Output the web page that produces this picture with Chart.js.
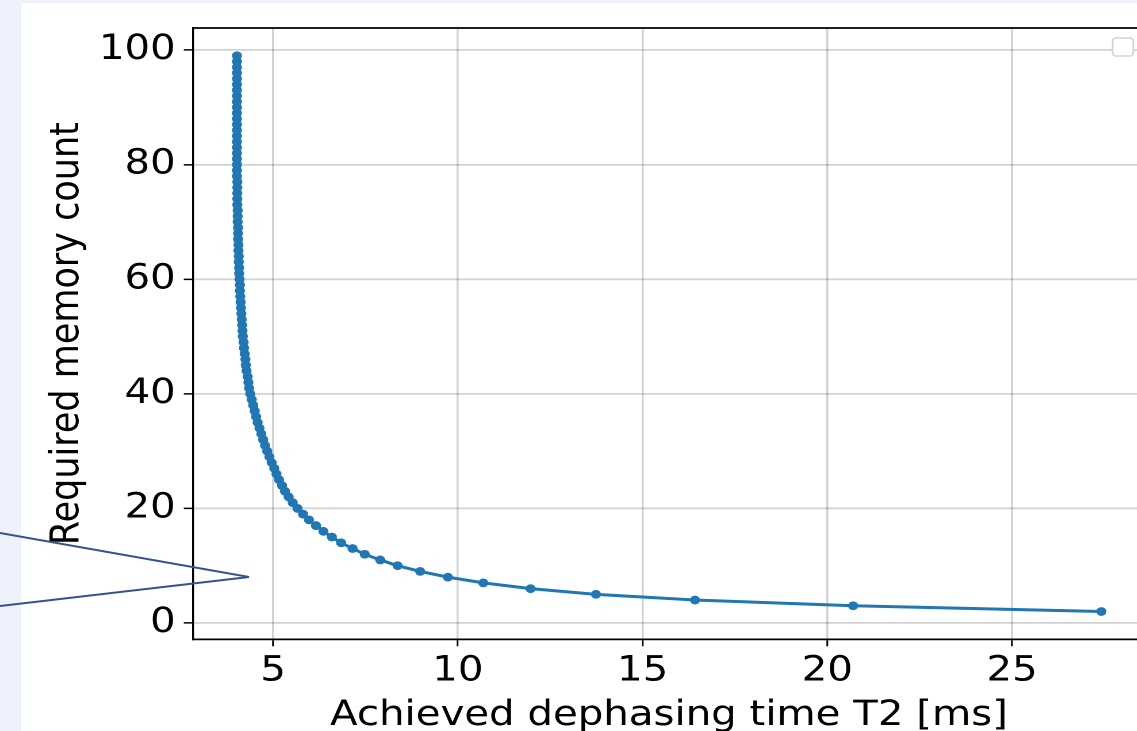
<!DOCTYPE html>
<html>
<head>
<meta charset="utf-8">
<script src="https://cdn.jsdelivr.net/npm/chart.js@4.4.0/dist/chart.umd.min.js"></script>
<style>
  html, body { margin: 0; padding: 0; width: 1137px; height: 731px; overflow: hidden; background: #eef2fc; }
  #panel { position: absolute; left: 21px; top: 3px; right: 0; bottom: 0; background: #ffffff; }
  #wrap { position: absolute; left: 0; top: 0; width: 1000px; height: 731px; transform: scaleX(1.15); transform-origin: 0 0; }
  #callout { position: absolute; left: 0; top: 0; }
</style>
</head>
<body>
<div id="panel"></div>
<div id="wrap"><canvas id="myChart" width="1000" height="731"></canvas></div>
<svg id="callout" width="1137" height="731">
  <polyline points="0,533 249,577 0,606" fill="none" stroke="#34528f" stroke-width="2"/>
</svg>
<script>
// memory count on y, achieved T2 (ms) on x
const memoryCounts = [
  2, 3, 4, 5, 6, 7, 8, 9, 10, 11,
  12, 13, 14, 15, 16, 17, 18, 19, 20, 21,
  22, 23, 24, 25, 26, 27, 28, 29, 30, 31,
  32, 33, 34, 35, 36, 37, 38, 39, 40, 41,
  42, 43, 44, 45, 46, 47, 48, 49, 50, 51,
  52, 53, 54, 55, 56, 57, 58, 59, 60, 61,
  62, 63, 64, 65, 66, 67, 68, 69, 70, 71,
  72, 73, 74, 75, 76, 77, 78, 79, 80, 81,
  82, 83, 84, 85, 86, 87, 88, 89, 90, 91,
  92, 93, 94, 95, 96, 97, 98, 99
]
const t2Values = [
  27.42, 20.70, 16.42, 13.74, 11.97, 10.69, 9.73, 8.98, 8.37, 7.90,
  7.48, 7.15, 6.84, 6.59, 6.36, 6.16, 5.97, 5.81, 5.66, 5.53,
  5.42, 5.32, 5.24, 5.16, 5.09, 5.03, 4.96, 4.90, 4.84, 4.78,
  4.73, 4.68, 4.63, 4.58, 4.54, 4.50, 4.46, 4.42, 4.38, 4.35,
  4.33, 4.31, 4.28, 4.26, 4.25, 4.23, 4.21, 4.20, 4.18, 4.17,
  4.16, 4.15, 4.14, 4.13, 4.12, 4.11, 4.10, 4.10, 4.09, 4.08,
  4.08, 4.07, 4.07, 4.06, 4.06, 4.05, 4.05, 4.05, 4.04, 4.04,
  4.04, 4.03, 4.03, 4.03, 4.03, 4.03, 4.02, 4.02, 4.02, 4.02,
  4.02, 4.02, 4.02, 4.02, 4.02, 4.02, 4.02, 4.02, 4.02, 4.02,
  4.02, 4.02, 4.02, 4.02, 4.02, 4.02, 4.02, 4.02
]
const xTicks = [5, 10, 15, 20, 25]
const yTicks = [0, 20, 40, 60, 80, 100]

const points = t2Values.map((v, i) => ({ x: v, y: memoryCounts[i] }))

// top spine + the empty matplotlib legend box
const frame = {
  id: 'frame',
  afterDraw(chart) {
    const ctx = chart.ctx
    const a = chart.chartArea
    ctx.save()
    ctx.strokeStyle = '#000'
    ctx.lineWidth = 1.75
    ctx.beginPath()
    ctx.moveTo(a.left, a.top)
    ctx.lineTo(a.right, a.top)
    ctx.lineTo(a.right, a.bottom)
    ctx.stroke()
    ctx.fillStyle = '#fff'
    ctx.strokeStyle = '#d4d4d4'
    ctx.lineWidth = 1.5
    ctx.beginPath()
    ctx.roundRect(967.5, 38, 18, 18, 3)
    ctx.fill()
    ctx.stroke()
    ctx.restore()
  }
}

const font = { family: 'DejaVu Sans', size: 35 }

new Chart(document.getElementById('myChart'), {
  type: 'scatter',
  data: {
    datasets: [{
      data: points,
      showLine: true,
      borderColor: '#1f77b4',
      backgroundColor: '#1f77b4',
      borderWidth: 3,
      pointRadius: 4.4,
      pointBorderWidth: 0,
      tension: 0
    }]
  },
  options: {
    responsive: false,
    animation: false,
    devicePixelRatio: 2,
    layout: { padding: { top: 27, right: 4.3, left: 0, bottom: 0 } },
    plugins: { legend: { display: false }, tooltip: { enabled: false } },
    scales: {
      x: {
        type: 'linear',
        min: 2.83,
        max: 28.6,
        afterBuildTicks: s => { s.ticks = xTicks.map(v => ({ value: v })) },
        afterFit: s => { s.height = 91.7 },
        ticks: { font: font, color: '#000', padding: 4, includeBounds: false },
        grid: { color: 'rgba(0,0,0,0.18)', lineWidth: 1.75, tickColor: '#000', tickLength: 7, tickWidth: 1.5 },
        border: { display: true, color: '#000', width: 1.75 },
        title: {
          display: true,
          text: 'Achieved dephasing time T2 [ms]',
          color: '#000',
          font: { family: 'DejaVu Sans', size: 35, lineHeight: 1 },
          padding: { top: 0, bottom: -2.5 }
        }
      },
      y: {
        type: 'linear',
        min: -2.85,
        max: 103.85,
        afterBuildTicks: s => { s.ticks = yTicks.map(v => ({ value: v })) },
        afterFit: s => { s.width = 167.8 },
        ticks: { font: font, color: '#000', padding: 7, includeBounds: false },
        grid: { color: 'rgba(0,0,0,0.18)', lineWidth: 1.75, tickColor: '#000', tickLength: 8, tickWidth: 1.5 },
        border: { display: true, color: '#000', width: 1.75 },
        title: {
          display: true,
          text: 'Required memory count',
          color: '#000',
          font: { family: 'DejaVu Sans', size: 35, lineHeight: 1.2 },
          padding: { top: 38, bottom: 0 }
        }
      }
    }
  },
  plugins: [frame]
})
</script>
</body>
</html>
